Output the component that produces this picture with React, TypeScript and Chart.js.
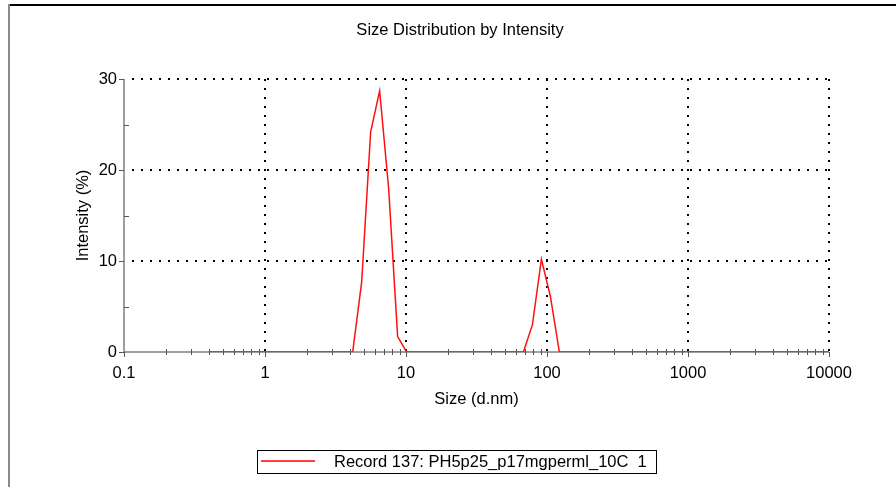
import React, { useEffect, useRef } from "react";
import { Chart, registerables } from "chart.js";

Chart.register(...registerables);

// Size bins (d.nm)
const sizes: number[] = [
  0.4, 0.4632, 0.5365, 0.6213, 0.7195, 0.8332, 0.9649, 1.117, 1.294, 1.499,
  1.736, 2.01, 2.328, 2.696, 3.122, 3.615, 4.187, 4.849, 5.615, 6.503,
  7.531, 8.721, 10.1, 11.7, 13.54, 15.69, 18.17, 21.04, 24.36, 28.21,
  32.67, 37.84, 43.82, 50.75, 58.77, 68.06, 78.82, 91.28, 105.7, 122.4,
  141.8, 164.2, 190.1, 220.2, 255.0, 295.3, 342.0, 396.1, 458.7, 531.2,
  615.1, 712.4, 825.0, 955.4, 1106, 1281, 1484, 1718, 1990, 2305,
  2669, 3091, 3580, 4145, 4801, 5560, 6439, 7456, 8635, 10000,
];
// Intensity (%)
const intensity: number[] = [
  0, 0, 0, 0, 0, 0, 0, 0, 0, 0,
  0, 0, 0, 0, 0, 0, 0, 7.7, 24.2, 28.7,
  18.0, 1.7, 0, 0, 0, 0, 0, 0, 0, 0,
  0, 0, 0, 0, 0, 0, 3.0, 10.2, 6.1, 0,
  0, 0, 0, 0, 0, 0, 0, 0, 0, 0,
  0, 0, 0, 0, 0, 0, 0, 0, 0, 0,
  0, 0, 0, 0, 0, 0, 0, 0, 0, 0,
];

const xTickValues: number[] = [0.1, 1, 10, 100, 1000, 10000];
const xTickLabels: string[] = ["0.1", "1", "10", "100", "1000", "10000"];
const xMinorMultipliers: number[] = [2, 3, 4, 5, 6, 7, 8, 9];
const yTickValues: number[] = [0, 10, 20, 30];
const yMinorTicks: number[] = [5, 15, 25];

const chartTitle = "Size Distribution by Intensity";
const xTitle = "Size (d.nm)";
const yTitle = "Intensity (%)";
const legendLabel = "Record 137: PH5p25_p17mgperml_10C  1";

const FONT = "'Liberation Sans', Arial, sans-serif";
const AXIS_GRAY = "#7f7f7f";
const RED = "#ff1010";

const decorPlugin = {
  id: "decor",
  beforeDatasetsDraw(chart: any) {
    const ctx = chart.ctx as CanvasRenderingContext2D;
    const xs = chart.scales.x;
    const ys = chart.scales.y;
    const left = chart.chartArea.left;
    const right = chart.chartArea.right;
    const top = chart.chartArea.top;
    const bottom = chart.chartArea.bottom;
    ctx.save();
    // outer frame
    ctx.fillStyle = "#000";
    ctx.fillRect(8, 4, 888, 2);
    ctx.fillStyle = "#8a8a8a";
    ctx.fillRect(8, 4, 2, 483);

    // dotted grid
    ctx.fillStyle = "#000";
    for (const v of yTickValues) {
      if (v === 0) continue;
      const py = Math.round(ys.getPixelForValue(v));
      for (let px = left + 8; px <= right; px += 9) {
        ctx.fillRect(px, py - 1, 2, 2);
      }
    }
    for (const v of xTickValues) {
      if (v === xTickValues[0]) continue;
      const px = Math.round(xs.getPixelForValue(v));
      for (let py = bottom - 3; py >= top; py -= 9) {
        ctx.fillRect(px - 1, py, 2, 2);
      }
    }

    // axis lines
    ctx.strokeStyle = AXIS_GRAY;
    ctx.lineWidth = 1.5;
    ctx.beginPath();
    ctx.moveTo(left, top);
    ctx.lineTo(left, bottom);
    ctx.lineTo(right, bottom);
    ctx.stroke();

    // titles
    ctx.fillStyle = "#000";
    ctx.textAlign = "center";
    ctx.textBaseline = "middle";
    ctx.font = `16.5px ${FONT}`;
    ctx.fillText(chartTitle, 460, 30);
    ctx.fillText(xTitle, (left + right) / 2, 399);
    ctx.save();
    ctx.translate(83, (top + bottom) / 2);
    ctx.rotate(-Math.PI / 2);
    ctx.fillText(yTitle, 0, 0);
    ctx.restore();

    // legend
    ctx.strokeStyle = "#000";
    ctx.lineWidth = 1;
    ctx.strokeRect(257.5, 450.5, 399, 23);
    ctx.beginPath();
    ctx.strokeStyle = "#ff0000";
    ctx.lineWidth = 1.5;
    ctx.moveTo(261, 461);
    ctx.lineTo(315, 461);
    ctx.stroke();
    ctx.fillStyle = "#000";
    ctx.textAlign = "left";
    ctx.font = `16.5px ${FONT}`;
    ctx.fillText(legendLabel, 334, 462);
    ctx.restore();
  },
  afterDatasetsDraw(chart: any) {
    const ctx = chart.ctx as CanvasRenderingContext2D;
    const xs = chart.scales.x;
    const ys = chart.scales.y;
    const left = chart.chartArea.left;
    const bottom = chart.chartArea.bottom;
    ctx.save();
    ctx.strokeStyle = "#555";
    ctx.lineWidth = 1;
    ctx.beginPath();
    // x minor ticks
    for (let i = 0; i < xTickValues.length - 1; i++) {
      for (const m of xMinorMultipliers) {
        const px = Math.round(xs.getPixelForValue(xTickValues[i] * m)) + 0.5;
        ctx.moveTo(px, bottom - 3);
        ctx.lineTo(px, bottom + 3);
      }
    }
    // x major ticks
    for (const v of xTickValues) {
      const px = Math.round(xs.getPixelForValue(v)) + 0.5;
      ctx.moveTo(px, bottom);
      ctx.lineTo(px, bottom + 5);
    }
    // y major ticks (outside)
    for (const v of yTickValues) {
      const py = Math.round(ys.getPixelForValue(v)) + 0.5;
      ctx.moveTo(left - 5, py);
      ctx.lineTo(left, py);
    }
    // y minor ticks (inside)
    for (const v of yMinorTicks) {
      const py = Math.round(ys.getPixelForValue(v)) + 0.5;
      ctx.moveTo(left, py);
      ctx.lineTo(left + 5, py);
    }
    ctx.stroke();
    ctx.restore();
  },
};

export default function App() {
  const canvasRef = useRef<HTMLCanvasElement | null>(null);

  useEffect(() => {
    document.body.style.margin = "0";
    document.body.style.background = "#fff";
    const canvas = canvasRef.current;
    if (!canvas) return;
    const points = sizes.map((s, i) => ({ x: s, y: intensity[i] }));
    const tickFont = { family: FONT, size: 16.5 };
    const chart = new Chart(canvas, {
      type: "line",
      data: {
        datasets: [
          {
            label: legendLabel,
            data: points,
            borderColor: RED,
            backgroundColor: RED,
            borderWidth: 1.5,
            pointRadius: 0,
            tension: 0,
            fill: false,
          },
        ],
      },
      options: {
        animation: false,
        responsive: false,
        devicePixelRatio: 1,
        layout: { padding: { left: 0, right: 67, top: 79, bottom: 75 } },
        plugins: {
          legend: { display: false },
          title: { display: false },
          tooltip: { enabled: false },
        },
        scales: {
          x: {
            type: "logarithmic",
            min: 0.1,
            max: 10000,
            afterBuildTicks: (s: any) => {
              s.ticks = xTickValues.map((v) => ({ value: v }));
            },
            afterFit: (s: any) => {
              s.height = 60;
            },
            grid: { display: false, drawTicks: false },
            border: { display: false },
            ticks: {
              autoSkip: false,
              maxRotation: 0,
              minRotation: 0,
              padding: 12,
              color: "#000",
              font: tickFont,
              callback: (v: any) => {
                const idx = xTickValues.indexOf(Number(v));
                return idx >= 0 ? xTickLabels[idx] : "";
              },
            },
          },
          y: {
            type: "linear",
            min: 0,
            max: 30,
            afterBuildTicks: (s: any) => {
              s.ticks = yTickValues.map((v) => ({ value: v }));
            },
            afterFit: (s: any) => {
              s.width = 124;
            },
            grid: { display: false, drawTicks: false },
            border: { display: false },
            ticks: {
              padding: 7,
              color: "#000",
              font: tickFont,
              callback: (v: any) => String(v),
            },
          },
        },
      },
      plugins: [decorPlugin],
    });
    return () => chart.destroy();
  }, []);

  return (
    <div style={{ width: 896, height: 487, position: "relative", background: "#fff" }}>
      <canvas ref={canvasRef} width={896} height={487} style={{ display: "block" }} />
    </div>
  );
}
